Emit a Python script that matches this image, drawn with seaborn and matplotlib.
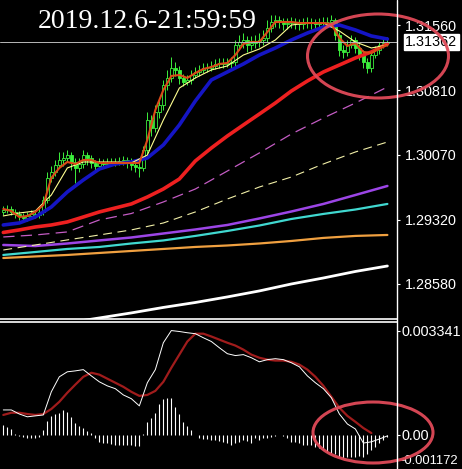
import numpy as np
import pandas as pd
import seaborn as sns
import matplotlib.pyplot as plt
from matplotlib.patches import Ellipse
from matplotlib.lines import Line2D

# Chart text
title = '2019.12.6-21:59:59'
price_ticks = [1.31560, 1.30810, 1.30070, 1.29320, 1.28580]
last_price = 1.31362
macd_top_label = 0.003341
macd_bottom_label = -0.001172

# Candles (one per bar)
first_open = 1.29409
close = [1.29432, 1.29443, 1.29409, 1.29386, 1.29363, 1.29340, 1.29363, 1.29386, 1.29374, 1.29409,
         1.29547, 1.29800, 1.29869, 1.29950, 1.30007, 1.30030, 1.30065, 1.29984, 1.29915, 1.29961,
         1.30065, 1.30030, 1.29973, 1.29938, 1.29984, 1.29961, 1.29973, 1.29984, 1.29984, 1.29996,
         1.30007, 1.29984, 1.29950, 1.29927, 1.29915, 1.30122, 1.30467, 1.30375, 1.30559, 1.30640,
         1.30870, 1.30951, 1.31066, 1.31043, 1.30951, 1.30905, 1.30928, 1.30985, 1.31020, 1.31043,
         1.31066, 1.31066, 1.31089, 1.31112, 1.31123, 1.31112, 1.31123, 1.31135, 1.31330, 1.31365,
         1.31388, 1.31330, 1.31353, 1.31365, 1.31388, 1.31411, 1.31526, 1.31595, 1.31618, 1.31595,
         1.31572, 1.31583, 1.31595, 1.31583, 1.31572, 1.31583, 1.31595, 1.31583, 1.31572, 1.31583,
         1.31595, 1.31595, 1.31618, 1.31445, 1.31273, 1.31250, 1.31330, 1.31388, 1.31296, 1.31215,
         1.31135, 1.31066, 1.31215, 1.31273, 1.31330, 1.31353, 1.31362]
high = [1.29478, 1.29489, 1.29478, 1.29443, 1.29420, 1.29397, 1.29409, 1.29432, 1.29420, 1.29455,
        1.29593, 1.29869, 1.29938, 1.30007, 1.30099, 1.30099, 1.30122, 1.30099, 1.30030, 1.30030,
        1.30122, 1.30099, 1.30065, 1.30007, 1.30030, 1.30019, 1.30030, 1.30030, 1.30030, 1.30042,
        1.30053, 1.30042, 1.30030, 1.30007, 1.29984, 1.30168, 1.30559, 1.30525, 1.30640, 1.30720,
        1.30928, 1.31043, 1.31192, 1.31135, 1.31089, 1.30997, 1.30985, 1.31043, 1.31077, 1.31100,
        1.31123, 1.31123, 1.31146, 1.31169, 1.31181, 1.31181, 1.31181, 1.31192, 1.31388, 1.31445,
        1.31468, 1.31434, 1.31434, 1.31445, 1.31468, 1.31503, 1.31618, 1.31675, 1.31675, 1.31664,
        1.31641, 1.31641, 1.31652, 1.31641, 1.31629, 1.31641, 1.31652, 1.31641, 1.31629, 1.31641,
        1.31652, 1.31652, 1.31675, 1.31641, 1.31480, 1.31330, 1.31388, 1.31445, 1.31422, 1.31342,
        1.31273, 1.31181, 1.31250, 1.31319, 1.31365, 1.31411, 1.31422]
low = [1.29374, 1.29397, 1.29374, 1.29340, 1.29317, 1.29305, 1.29305, 1.29328, 1.29340, 1.29340,
       1.29374, 1.29512, 1.29754, 1.29823, 1.29915, 1.29938, 1.29984, 1.29892, 1.29742, 1.29869,
       1.29915, 1.29950, 1.29915, 1.29869, 1.29892, 1.29915, 1.29927, 1.29938, 1.29938, 1.29950,
       1.29950, 1.29915, 1.29892, 1.29869, 1.29811, 1.29881, 1.30076, 1.30283, 1.30329, 1.30490,
       1.30582, 1.30813, 1.30905, 1.30974, 1.30882, 1.30859, 1.30870, 1.30882, 1.30951, 1.30974,
       1.31008, 1.31020, 1.31031, 1.31054, 1.31066, 1.31066, 1.31077, 1.31066, 1.31089, 1.31273,
       1.31296, 1.31250, 1.31273, 1.31296, 1.31307, 1.31330, 1.31365, 1.31480, 1.31537, 1.31526,
       1.31503, 1.31514, 1.31526, 1.31514, 1.31503, 1.31514, 1.31526, 1.31514, 1.31503, 1.31514,
       1.31526, 1.31537, 1.31549, 1.31388, 1.31204, 1.31181, 1.31204, 1.31296, 1.31238, 1.31158,
       1.31066, 1.31008, 1.31020, 1.31181, 1.31227, 1.31296, 1.31319]

# Moving averages, sampled every 2 / 4 / 8 bars
ma_fast = [1.29443, 1.29420, 1.29351, 1.29363, 1.29409, 1.29489, 1.29800, 1.29915, 1.29984, 1.29961,
           1.30007, 1.30007, 1.29973, 1.29973, 1.29973, 1.29973, 1.29973, 1.29973, 1.30237, 1.30582,
           1.30812, 1.30974, 1.30985, 1.30951, 1.31008, 1.31054, 1.31077, 1.31112, 1.31123, 1.31215,
           1.31342, 1.31365, 1.31365, 1.31480, 1.31595, 1.31595, 1.31595, 1.31583, 1.31583, 1.31583,
           1.31583, 1.31572, 1.31411, 1.31319, 1.31353, 1.31250, 1.31238, 1.31296, 1.31330]
ma_yellow = [1.29363, 1.29397, 1.29420, 1.29604, 1.29915, 1.29984, 1.29984, 1.29984, 1.29973, 1.30064,
             1.30467, 1.30835, 1.30951, 1.31043, 1.31089, 1.31215, 1.31284, 1.31388, 1.31560, 1.31583,
             1.31583, 1.31491, 1.31365, 1.31296, 1.31330]
ma_blue = [1.29259, 1.29282, 1.29351, 1.29466, 1.29639, 1.29777, 1.29903, 1.29961, 1.29984, 1.30030,
           1.30180, 1.30410, 1.30686, 1.30928, 1.31020, 1.31112, 1.31215, 1.31296, 1.31388, 1.31468,
           1.31537, 1.31560, 1.31503, 1.31434, 1.31399]
ma_red = [1.29173, 1.29202, 1.29236, 1.29259, 1.29294, 1.29351, 1.29409, 1.29455, 1.29501, 1.29581,
          1.29673, 1.29788, 1.29996, 1.30145, 1.30283, 1.30410, 1.30536, 1.30663, 1.30801, 1.30916,
          1.31020, 1.31100, 1.31181, 1.31250, 1.31342]
ma_pink = [1.29121, 1.29144, 1.29179, 1.29317, 1.29391, 1.29524, 1.29673, 1.29880, 1.30088, 1.30306,
           1.30490, 1.30663, 1.30847]
ma_lightyellow = [1.28971, 1.29029, 1.29087, 1.29144, 1.29202, 1.29282, 1.29409, 1.29558, 1.29696, 1.29811,
                  1.29961, 1.30099, 1.30214]
ma_purple = [1.29029, 1.29017, 1.29046, 1.29081, 1.29115, 1.29161, 1.29207, 1.29259, 1.29334, 1.29414,
             1.29501, 1.29604, 1.29708]
ma_cyan = [1.28914, 1.28948, 1.28983, 1.29006, 1.29046, 1.29081, 1.29133, 1.29190, 1.29253, 1.29328,
           1.29386, 1.29437, 1.29501]
ma_orange = [1.28879, 1.28897, 1.28914, 1.28937, 1.28960, 1.28983, 1.29006, 1.29023, 1.29046, 1.29075,
             1.29110, 1.29133, 1.29144]
ma_white = [1.28017, 1.28074, 1.28132, 1.28189, 1.28247, 1.28310, 1.28367, 1.28431, 1.28500, 1.28580,
            1.28649, 1.28724, 1.28787]

# MACD window
macd_main = [0.00080, 0.00080, 0.00067, 0.00058, 0.00061, 0.00064, 0.00138, 0.00186, 0.00202, 0.00205,
             0.00209, 0.00189, 0.00170, 0.00157, 0.00148, 0.00128, 0.00116, 0.00093, 0.00167, 0.00209,
             0.00295, 0.00334, 0.00331, 0.00327, 0.00324, 0.00311, 0.00299, 0.00279, 0.00260, 0.00254,
             0.00257, 0.00247, 0.00234, 0.00241, 0.00244, 0.00241, 0.00231, 0.00218, 0.00189, 0.00167,
             0.00148, 0.00119, 0.00067, 0.00035, 0.00019, -0.00026, -0.00022, -0.00013, -0.00003]
macd_signal = [0.00064, 0.00071, 0.00071, 0.00067, 0.00064, 0.00067, 0.00083, 0.00106, 0.00135, 0.00161,
               0.00186, 0.00199, 0.00193, 0.00180, 0.00167, 0.00154, 0.00138, 0.00125, 0.00128, 0.00141,
               0.00170, 0.00215, 0.00257, 0.00299, 0.00324, 0.00324, 0.00315, 0.00305, 0.00295, 0.00286,
               0.00273, 0.00257, 0.00247, 0.00241, 0.00238, 0.00238, 0.00234, 0.00225, 0.00209, 0.00186,
               0.00157, 0.00122, 0.00087, 0.00061, 0.00042, 0.00022, 0.00006]
macd_hist = [0.00032, 0.00026, 0.00019, 0.00003, -0.00003, -0.00006, -0.00010, -0.00010, -0.00010, -0.00006,
             0.00016, 0.00045, 0.00061, 0.00067, 0.00071, 0.00080, 0.00074, 0.00058, 0.00039, 0.00029,
             0.00022, 0.00013, 0.00006, -0.00010, -0.00022, -0.00026, -0.00026, -0.00029, -0.00032, -0.00032,
             -0.00032, -0.00032, -0.00032, -0.00035, -0.00035, 0.00003, 0.00042, 0.00055, 0.00071, 0.00100,
             0.00116, 0.00119, 0.00119, 0.00090, 0.00067, 0.00042, 0.00029, 0.00016, 0.0, -0.00010,
             -0.00013, -0.00013, -0.00016, -0.00016, -0.00019, -0.00022, -0.00026, -0.00032, -0.00026, -0.00022,
             -0.00016, -0.00019, -0.00026, -0.00010, -0.00016, -0.00010, -0.00010, -0.00006, -0.00003, 0.0,
             -0.00003, -0.00010, -0.00022, -0.00022, -0.00026, -0.00032, -0.00032, -0.00032, -0.00039, -0.00042,
             -0.00048, -0.00055, -0.00058, -0.00061, -0.00071, -0.00074, -0.00071, -0.00071, -0.00071, -0.00067,
             -0.00071, -0.00061, -0.00048, -0.00039, -0.00026, -0.00016, -0.00006]

bars = pd.DataFrame({'close': close, 'high': high, 'low': low})
bars['open'] = [first_open] + close[:-1]
bars['i'] = np.arange(len(bars))
idx2 = np.arange(0, len(bars), 2)
idx4 = np.arange(0, len(bars), 4)
idx8 = np.arange(0, len(bars), 8)

sns.set_theme(style='dark', rc={'axes.facecolor': 'black', 'figure.facecolor': 'black'})
plt.rcParams['font.family'] = ['Liberation Sans', 'DejaVu Sans']

W, H = 462, 469
fig = plt.figure(figsize=(W / 100, H / 100), dpi=100)
ax = fig.add_axes([0, 150 / H, 397 / W, 319 / H])
axm = fig.add_axes([0, 0, 397 / W, 147.5 / H])

LIME = '#3cf03c'

# candles
up = bars['close'] >= bars['open']
ax.vlines(bars['i'], bars['low'], bars['high'], color=LIME, lw=0.7, zorder=2)
ax.bar(bars['i'][up], (bars['close'] - bars['open'])[up], bottom=bars['open'][up],
       width=0.6, color='black', edgecolor=LIME, lw=0.6, zorder=3)
ax.bar(bars['i'][~up], (bars['close'] - bars['open'])[~up], bottom=bars['open'][~up],
       width=0.6, color=LIME, edgecolor=LIME, lw=0.6, zorder=3)

# moving averages
lines = [
    (idx8, ma_white, '#ffffff', 2.0, '-'),
    (idx8, ma_orange, '#f0a040', 1.6, '-'),
    (idx8, ma_cyan, '#40d8d0', 1.6, '-'),
    (idx8, ma_purple, '#9c45e6', 1.8, '-'),
    (idx8, ma_lightyellow, '#f2f0a8', 0.8, (0, (8, 5))),
    (idx8, ma_pink, '#c45cc4', 0.9, (0, (9, 5))),
    (idx4, ma_red, '#ee2020', 2.6, '-'),
    (idx4, ma_blue, '#1515c4', 2.6, '-'),
    (idx4, ma_yellow, '#ffff90', 0.8, '-'),
    (idx2, ma_fast, '#dc4a18', 1.5, '-'),
]
for k, (xs, ys, col, lw, ls) in enumerate(lines):
    sns.lineplot(x=xs, y=ys, ax=ax, color=col, linewidth=lw, linestyle=ls,
                 estimator=None, sort=False, zorder=4 + k)

ax.axhline(last_price, color='#b8b8b8', lw=0.7, zorder=20)

# MACD window
axm.vlines(bars['i'], 0, macd_hist, color='white', lw=0.8, zorder=2)
sns.lineplot(x=idx2[:len(macd_signal)], y=macd_signal, ax=axm, color='#a01c1c', linewidth=1.6,
             estimator=None, sort=False, zorder=3)
sns.lineplot(x=idx2, y=macd_main, ax=axm, color='white', linewidth=0.7,
             estimator=None, sort=False, zorder=4)

# axes cosmetics
for a in (ax, axm):
    a.set_facecolor('black')
    a.set_xlim(-0.825, 98.4)
    a.set_xticks([])
    a.set_xlabel('')
    a.set_ylabel('')
    a.grid(False)
    a.yaxis.tick_right()
    a.tick_params(axis='y', left=False, right=True, labelleft=False, labelright=True,
                  colors='white', length=2.5, width=0.8, labelsize=10.4)
    for s in ['left', 'top', 'right']:
        a.spines[s].set_visible(False)

ax.set_ylim(1.28177, 1.31848)
ax.set_yticks(price_ticks)
ax.set_yticklabels([f'{p:.5f}' for p in price_ticks])
ax.tick_params(axis='y', pad=3)
ax.spines['bottom'].set_visible(True)
ax.spines['bottom'].set_color('white')
ax.spines['bottom'].set_linewidth(1.2)

axm.set_ylim(-0.00109, 0.00363)
axm.set_yticks([macd_top_label, 0.0])
axm.set_yticklabels([f'{macd_top_label:.6f}', '0.00'])
axm.tick_params(axis='y', pad=1)
axm.spines['top'].set_visible(True)
axm.spines['top'].set_color('white')
axm.spines['top'].set_linewidth(1.2)
axm.spines['bottom'].set_visible(False)
axm.annotate(f'{macd_bottom_label:.6f}', xy=(1.0, 0.055), xycoords='axes fraction',
             xytext=(2.5, 0), textcoords='offset points', ha='left', va='center',
             color='white', fontsize=9.4, annotation_clip=False)

# current price box
ax.annotate(f'{last_price:.5f}', xy=(1.0, last_price), xycoords=('axes fraction', 'data'),
            xytext=(6, 0), textcoords='offset points', ha='left', va='center',
            color='black', fontsize=10.4, annotation_clip=False,
            bbox=dict(boxstyle='square,pad=0.08', fc='white', ec='white'))

# separator on the right
fig.add_artist(Line2D([397 / W, 397 / W], [0, 1], color='white', lw=1.0, transform=fig.transFigure))

# title
fig.text(38 / W, 1 - 22 / H, title, family=['Liberation Serif', 'DejaVu Serif'], size=20,
         color='white', ha='left', va='center')

# hand-drawn red circles
ov = fig.add_axes([0, 0, 1, 1], facecolor='none')
ov.set_xlim(0, W)
ov.set_ylim(H, 0)
ov.axis('off')
ov.add_patch(Ellipse((378, 56), 141, 84, fill=False, ec='#e04a58', lw=2.2, alpha=0.95))
ov.add_patch(Ellipse((373, 432.5), 120, 61, fill=False, ec='#e04a58', lw=2.2, alpha=0.95))

fig.savefig('out.png', dpi=100, facecolor='black')
